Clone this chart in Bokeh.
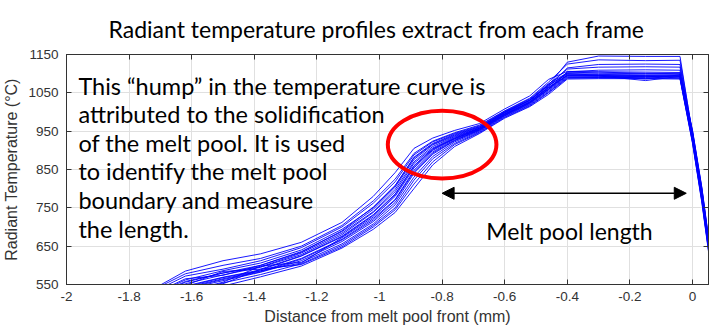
from bokeh.plotting import figure
from bokeh.models import (FixedTicker, LinearAxis, Range1d, Label, Arrow, NormalHead,
                          CustomJSTickFormatter)
from bokeh.embed import file_html
from bokeh.resources import INLINE

# ---------------- data ----------------
title_text = "Radiant temperature profiles extract from each frame"
x_label = "Distance from melt pool front (mm)"
y_label = "Radiant Temperature (\u00b0C)"

x_ticks = [-2, -1.8, -1.6, -1.4, -1.2, -1, -0.8, -0.6, -0.4, -0.2, 0]
y_ticks = [550, 650, 750, 850, 950, 1050, 1150]

# distance from melt pool front (mm) sampled for every frame profile
x_dist = [-1.75, -1.62, -1.5, -1.38, -1.25, -1.12, -1.02, -0.95, -0.89, -0.83, -0.76,
          -0.68, -0.6, -0.52, -0.46, -0.4, -0.3, -0.15, -0.04, 0.0, 0.03, 0.06]

frame_01 = [515, 565, 574, 600, 634, 690, 752, 808, 882, 918, 942, 962, 1000, 1030, 1068, 1102, 1104, 1101, 1100, 950, 800, 615]
frame_02 = [478, 532, 556, 598, 608, 656, 708, 758, 830, 884, 922, 950, 990, 1020, 1055, 1092, 1091, 1093, 1091, 925, 770, 590]
frame_03 = [500, 552, 575, 595, 628, 680, 738, 792, 866, 906, 934, 958, 998, 1030, 1070, 1130, 1146, 1145, 1145, 940, 790, 605]
frame_04 = [490, 542, 565, 585, 618, 668, 722, 772, 848, 896, 928, 954, 993, 1024, 1060, 1096, 1095, 1094, 1094, 932, 780, 598]
frame_05 = [525, 578, 600, 618, 650, 704, 768, 825, 892, 924, 946, 966, 1003, 1036, 1078, 1125, 1136, 1134, 1135, 945, 795, 610]
frame_06 = [470, 525, 552, 590, 602, 648, 700, 745, 812, 870, 915, 946, 986, 1016, 1050, 1088, 1089, 1088, 1088, 920, 765, 585]
frame_07 = [505, 556, 580, 596, 632, 684, 740, 798, 870, 910, 936, 958, 997, 1028, 1064, 1100, 1096, 1086, 1097, 938, 786, 602]
frame_08 = [484, 538, 560, 582, 612, 662, 714, 764, 840, 890, 925, 952, 991, 1022, 1058, 1094, 1093, 1093, 1092, 928, 776, 594]
frame_09 = [498, 548, 584, 590, 625, 676, 732, 786, 860, 904, 932, 957, 995, 1026, 1066, 1115, 1124, 1125, 1124, 936, 784, 600]
frame_10 = [520, 572, 590, 612, 646, 700, 762, 818, 888, 922, 944, 964, 1002, 1034, 1074, 1102, 1101, 1100, 1099, 948, 798, 612]
frame_11 = [476, 530, 554, 576, 604, 652, 704, 750, 822, 878, 918, 948, 988, 1018, 1052, 1090, 1090, 1090, 1089, 922, 768, 588]
frame_12 = [508, 558, 580, 600, 636, 688, 746, 804, 876, 914, 938, 960, 999, 1031, 1072, 1112, 1117, 1118, 1117, 942, 790, 606]
frame_13 = [492, 544, 568, 586, 606, 672, 726, 780, 854, 900, 930, 955, 994, 1025, 1062, 1097, 1096, 1095, 1095, 934, 782, 598]
frame_14 = [526, 585, 612, 630, 660, 712, 780, 842, 905, 932, 952, 970, 1008, 1042, 1085, 1106, 1105, 1104, 1103, 952, 802, 618]
frame_15 = [468, 522, 546, 570, 598, 645, 694, 738, 800, 862, 910, 944, 984, 1014, 1046, 1086, 1087, 1087, 1086, 918, 762, 582]
frame_16 = [488, 540, 563, 583, 616, 666, 718, 770, 844, 893, 926, 953, 992, 1023, 1059, 1105, 1109, 1110, 1109, 930, 778, 596]
frame_17 = [512, 562, 586, 606, 640, 694, 750, 808, 880, 916, 940, 961, 1000, 1032, 1070, 1099, 1098, 1097, 1097, 944, 792, 608]
frame_18 = [496, 546, 569, 588, 624, 674, 730, 784, 858, 902, 931, 956, 995, 1026, 1064, 1095, 1094, 1082, 1093, 935, 783, 601]

frames = [frame_01, frame_02, frame_03, frame_04, frame_05, frame_06, frame_07, frame_08, frame_09,
          frame_10, frame_11, frame_12, frame_13, frame_14, frame_15, frame_16, frame_17, frame_18]

note_lines = ["This \u201chump\u201d in the temperature curve is",
              "attributed to the solidification",
              "of the melt pool. It is used",
              "to identify the melt pool",
              "boundary and measure",
              "the length."]
length_label = "Melt pool length"

# ---------------- figure ----------------
axis_color = "#333333"
p = figure(width=713, height=333, output_backend="svg", toolbar_location=None,
           x_range=Range1d(-2, 0.051), y_range=Range1d(550, 1150),
           min_border_left=64, min_border_right=5, min_border_top=50, min_border_bottom=49)

p.title.text = title_text
p.title.align = "left"
p.title.offset = 42
p.title.standoff = 24
p.title.text_font = "Lato"
p.title.text_font_size = "23px"
p.title.text_font_style = "normal"
p.title.text_color = "#000000"

p.outline_line_color = axis_color
p.background_fill_color = "white"
p.border_fill_color = "white"

fmt = CustomJSTickFormatter(code="return String(Number(tick.toFixed(1)));")
blank = CustomJSTickFormatter(code="return '';")

for ax in p.xaxis:
    ax.ticker = FixedTicker(ticks=x_ticks)
    ax.formatter = fmt
for ax in p.yaxis:
    ax.ticker = FixedTicker(ticks=y_ticks)

for ax in list(p.xaxis) + list(p.yaxis):
    ax.major_tick_in = 5
    ax.major_tick_out = 0
    ax.minor_tick_in = 0
    ax.minor_tick_out = 0
    ax.axis_line_color = axis_color
    ax.major_tick_line_color = axis_color
    ax.major_label_text_font = "Liberation Sans"
    ax.major_label_text_font_size = "13.5px"
    ax.major_label_text_color = axis_color
    ax.axis_label_text_font = "Liberation Sans"
    ax.axis_label_text_font_size = "16px"
    ax.axis_label_text_font_style = "normal"
    ax.axis_label_text_color = axis_color

p.xaxis.axis_label = x_label
p.yaxis.axis_label = y_label
p.xaxis.major_label_standoff = 7
p.yaxis.major_label_standoff = 8
p.xaxis.axis_label_standoff = 4
p.yaxis.axis_label_standoff = 5

# mirrored ticks on top and right (box on)
top_ax = LinearAxis(ticker=FixedTicker(ticks=x_ticks), formatter=blank)
right_ax = LinearAxis(ticker=FixedTicker(ticks=y_ticks), formatter=blank)
for ax in (top_ax, right_ax):
    ax.major_tick_in = 5
    ax.major_tick_out = 0
    ax.minor_tick_in = 0
    ax.minor_tick_out = 0
    ax.major_label_standoff = 0
    ax.major_label_text_font_size = "0px"
    ax.axis_line_color = axis_color
    ax.major_tick_line_color = axis_color
p.add_layout(top_ax, "above")
p.add_layout(right_ax, "right")

p.xgrid.ticker = FixedTicker(ticks=x_ticks)
p.ygrid.ticker = FixedTicker(ticks=y_ticks)
p.xgrid.grid_line_color = "#e0e0e0"
p.ygrid.grid_line_color = "#e0e0e0"

for ys in frames:
    p.line(x_dist, ys, line_color="#0000ff", line_width=1, line_alpha=0.9)

# red ellipse around the hump
p.ellipse(x=[-0.80], y=[915], width=[0.347], height=[177],
          fill_color=None, line_color="#ff0000", line_width=4)

# double arrow for melt pool length
p.add_layout(Arrow(x_start=-0.8, y_start=788, x_end=-0.02, y_end=788,
                   line_color="black", line_width=1.5,
                   start=NormalHead(size=12, fill_color="black", line_color="black"),
                   end=NormalHead(size=12, fill_color="black", line_color="black")))

note_y = [1068, 993.6, 919, 845, 770.5, 696]
for txt, yy in zip(note_lines, note_y):
    p.add_layout(Label(x=-1.962, y=yy, text=txt, text_font="Lato", text_font_size="23.5px",
                       text_color="black", text_baseline="alphabetic", text_align="left"))

p.add_layout(Label(x=-0.659, y=688.5, text=length_label, text_font="Lato", text_font_size="23px",
                   text_color="black", text_baseline="alphabetic", text_align="left"))

open("out.html", "w").write(file_html(p, INLINE))
